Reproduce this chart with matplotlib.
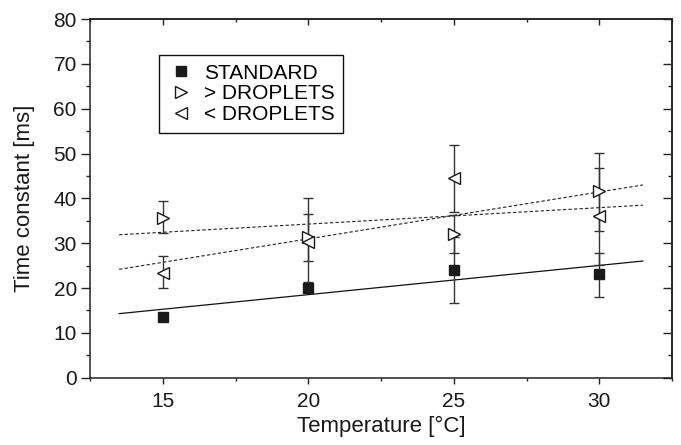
import numpy as np
import matplotlib
matplotlib.use("Agg")
import matplotlib.pyplot as plt
from matplotlib.ticker import MultipleLocator

plt.rcParams['font.family'] = ['Liberation Sans', 'DejaVu Sans']

# data
temps = [15, 20, 25, 30]

standard = [13.6, 19.9, 24.0, 23.1]
standard_lo = [0.0, 0.0, 7.4, 5.0]
standard_hi = [0.0, 0.0, 7.4, 4.8]

more_drop = [35.7, 31.4, 32.0, 41.6]
more_lo = [3.5, 10.0, 4.3, 8.9]
more_hi = [3.6, 8.6, 4.3, 8.6]

less_drop = [23.4, 30.3, 44.5, 36.1]
less_lo = [3.5, 4.3, 7.5, 11.0]
less_hi = [3.7, 6.1, 7.5, 10.6]

fit_x = np.array([13.5, 31.5])

fig = plt.figure(figsize=(6.81, 4.45), dpi=100)
ax = fig.add_axes([0.1322, 0.1513, 0.8546, 0.806])

ebar = dict(fmt='none', ecolor='#333333', elinewidth=1, capsize=3.5, capthick=1, zorder=2)
ax.errorbar(temps, standard, yerr=[standard_lo, standard_hi], **ebar)
ax.errorbar(temps, more_drop, yerr=[more_lo, more_hi], **ebar)
ax.errorbar(temps, less_drop, yerr=[less_lo, less_hi], **ebar)

# linear fits
k, b = np.polyfit(temps, standard, 1)
ax.plot(fit_x, k * fit_x + b, color='#111111', lw=0.9, zorder=1)
k, b = np.polyfit(temps, more_drop, 1)
ax.plot(fit_x, k * fit_x + b, color='#222222', lw=0.8, ls=(0, (3, 2)), zorder=1)
k, b = np.polyfit(temps, less_drop, 1)
ax.plot(fit_x, k * fit_x + b, color='#222222', lw=0.8, ls=(0, (3, 2)), zorder=1)

ax.plot(temps, standard, 's', color='#1a1a1a', ms=7.5, ls='none', zorder=3, label='STANDARD')
ax.plot(temps, more_drop, '>', mfc='white', mec='#1a1a1a', mew=1, ms=9, ls='none', zorder=3,
        label='> DROPLETS')
ax.plot(temps, less_drop, '<', mfc='white', mec='#1a1a1a', mew=1, ms=9, ls='none', zorder=3,
        label='< DROPLETS')

ax.set_xlim(12.5, 32.5)
ax.set_ylim(0, 80)
ax.xaxis.set_major_locator(MultipleLocator(5))
ax.xaxis.set_minor_locator(MultipleLocator(2.5))
ax.yaxis.set_major_locator(MultipleLocator(10))
ax.yaxis.set_minor_locator(MultipleLocator(5))
ax.tick_params(which='both', direction='out', color='#222222', width=1, labelsize=15,
               labelcolor='#1a1a1a', pad=3)
ax.tick_params(axis='x', which='major', length=4.5, pad=6)
ax.tick_params(axis='x', which='minor', length=2.2)
ax.tick_params(axis='y', which='major', length=6.5)
ax.tick_params(axis='y', which='minor', length=3.2)

# inward ticks on top and right
top = ax.secondary_xaxis('top')
top.xaxis.set_major_locator(MultipleLocator(5))
top.xaxis.set_minor_locator(MultipleLocator(2.5))
top.tick_params(which='both', direction='in', labeltop=False, color='#222222', width=1)
top.tick_params(which='major', length=4.5)
top.tick_params(which='minor', length=2.2)
right = ax.secondary_yaxis('right')
right.yaxis.set_major_locator(MultipleLocator(10))
right.yaxis.set_minor_locator(MultipleLocator(5))
right.tick_params(which='both', direction='in', labelright=False, color='#222222', width=1)
right.tick_params(which='major', length=6.5)
right.tick_params(which='minor', length=3.2)

for s in list(ax.spines.values()) + [top.spines['top'], right.spines['right']]:
    s.set_linewidth(1.1)
    s.set_color('#222222')

ax.set_xlabel('Temperature [°C]', fontsize=16, color='#1a1a1a', labelpad=3)
ax.set_ylabel('Time constant [ms]', fontsize=16, color='#1a1a1a', labelpad=13)

leg = ax.legend(loc='upper left', bbox_to_anchor=(0.118, 0.90), borderaxespad=0,
                fontsize=15, fancybox=False, edgecolor='#111111', framealpha=1,
                handlelength=1.3, handletextpad=0.45, labelspacing=0.09, borderpad=0.42,
                markerscale=0.9)
leg.get_frame().set_linewidth(1)

fig.savefig('out.png', dpi=100)
